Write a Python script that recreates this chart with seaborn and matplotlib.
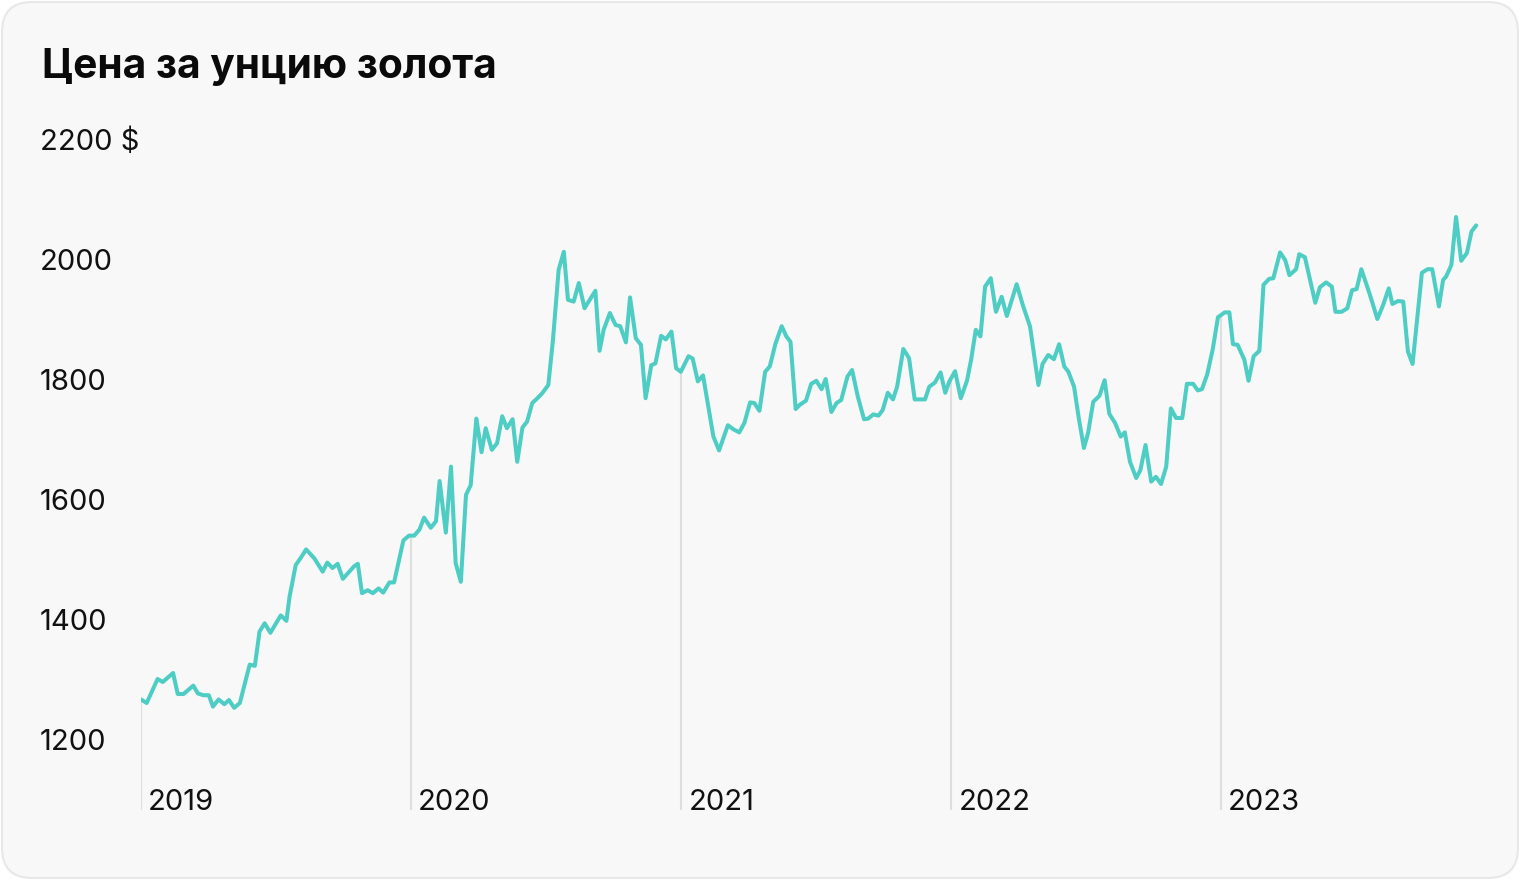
import numpy as np
import pandas as pd
import matplotlib.pyplot as plt
import matplotlib.patches as mpatches
import matplotlib.transforms as mtransforms
import matplotlib.dates as mdates
import seaborn as sns

# Weeks since 2019-01-01 and gold price, $ per ounce
weeks = [0, 1.1, 3.2, 4.2, 6.2, 7.1, 8.2, 10.1, 11.0, 12.0, 13.1, 13.9, 15.0, 16.1, 17.0, 18.0,
         19.1, 21.0, 22.0, 22.9, 23.9, 25.0, 27.0, 28.1, 28.7, 29.9, 30.8, 31.9, 33.5, 35.1,
         36.0, 37.0, 38.0, 39.0, 41.2, 41.9, 42.7, 43.8, 44.8, 45.9, 46.8, 48.0, 48.9, 50.7,
         51.8, 52.8, 53.8, 54.7, 56.0, 57.0, 57.7, 58.9, 59.9, 60.8, 61.8, 62.8, 63.7, 64.8,
         65.8, 66.6, 67.8, 68.8, 69.8, 70.7, 71.8, 72.7, 73.7, 74.6, 75.6, 76.6, 77.5, 78.7,
         79.6, 80.7, 81.7, 82.5, 83.6, 84.6, 85.7, 86.5, 87.8, 88.6, 89.4, 90.6, 91.7, 92.6,
         93.7, 94.5, 95.6, 96.6, 97.5, 98.6, 99.4, 100.5, 101.4, 102.5, 103.4, 104.3, 105.8,
         106.6, 107.6, 108.6, 110.6, 111.7, 113.4, 114.5, 115.6, 116.6, 117.7, 118.5, 119.5,
         120.6, 121.5, 122.6, 123.8, 124.7, 125.5, 126.5, 127.3, 128.5, 129.5, 130.5, 131.5,
         132.3, 133.4, 134.4, 135.3, 136.5, 137.4, 138.5, 139.7, 140.5, 141.5, 142.5, 143.3,
         144.3, 145.3, 146.1, 147.3, 148.4, 149.5, 150.6, 151.5, 152.3, 153.4, 154.5, 155.4,
         156.2, 157.3, 158.4, 159.6, 160.4, 161.3, 162.2, 163.1, 164.2, 165.2, 166.3, 167.3,
         169.2, 170.4, 171.8, 173.4, 174.2, 175.3, 176.4, 177.4, 178.4, 179.2, 180.3, 181.2,
         182.2, 183.0, 184.0, 185.2, 186.2, 187.1, 188.2, 189.3, 190.1, 191.1, 192.3, 193.1,
         194.1, 195.2, 196.1, 197.1, 198.1, 199.0, 200.0, 201.2, 202.1, 203.3, 204.2, 205.0,
         206.0, 207.1, 208.1, 209.4, 210.3, 211.0, 211.9, 213.2, 214.0, 215.0, 216.1, 216.9,
         218.0, 218.8, 220.1, 221.1, 221.9, 223.2, 223.8, 224.9, 226.9, 227.8, 229.0, 230.1,
         230.8, 232.0, 233.1, 234.0, 234.9, 235.8, 237.4, 238.9, 240.0, 241.1, 241.8, 242.9,
         243.9, 244.8, 245.7, 247.5, 248.6, 249.5, 250.8, 251.6, 252.2, 253.2, 254.1, 255.1,
         256.2, 257.1, 258.0]

prices = [1266, 1260, 1300, 1295, 1310, 1275, 1275, 1289, 1276, 1273, 1273, 1254, 1266, 1258, 1265, 1252,
          1260, 1324, 1322, 1379, 1393, 1377, 1406, 1397, 1437, 1490, 1501, 1516, 1501, 1479,
          1494, 1485, 1492, 1467, 1488, 1492, 1443, 1448, 1443, 1451, 1444, 1461, 1461, 1531,
          1539, 1539, 1549, 1569, 1552, 1563, 1630, 1544, 1654, 1493, 1462, 1607, 1623, 1734,
          1678, 1718, 1682, 1693, 1738, 1718, 1733, 1662, 1719, 1729, 1760, 1768, 1776, 1790,
          1865, 1982, 2012, 1932, 1929, 1960, 1918, 1929, 1947, 1847, 1882, 1910, 1890, 1888,
          1861, 1936, 1868, 1857, 1768, 1823, 1826, 1872, 1866, 1879, 1818, 1812, 1838,
          1834, 1796, 1806, 1704, 1681, 1723, 1716, 1711, 1727, 1761, 1760, 1747,
          1812, 1821, 1859, 1888, 1871, 1862, 1750, 1757, 1764, 1792, 1797, 1783,
          1800, 1745, 1760, 1765, 1804, 1815, 1771, 1733, 1734, 1741, 1739, 1748,
          1777, 1766, 1787, 1850, 1835, 1766, 1766, 1766, 1787, 1794, 1811, 1777,
          1796, 1813, 1768, 1797, 1832, 1882, 1871, 1954, 1968, 1912, 1937, 1905,
          1958, 1923, 1887, 1790, 1825, 1840, 1833, 1858, 1821, 1812, 1787, 1735,
          1685, 1710, 1762, 1772, 1798, 1742, 1727, 1704, 1711, 1662, 1635, 1648,
          1690, 1629, 1637, 1625, 1654, 1751, 1735, 1735, 1792, 1792, 1781, 1783,
          1807, 1850, 1903, 1911, 1911, 1858, 1857, 1832, 1797, 1838, 1847, 1957,
          1967, 1968, 2011, 1998, 1973, 1983, 2008, 2003, 1927, 1953, 1961, 1954,
          1912, 1912, 1918, 1948, 1950, 1983, 1942, 1900, 1923, 1951, 1925, 1930,
          1929, 1846, 1825, 1977, 1983, 1983, 1921, 1965, 1971, 1990, 2070, 1997,
          2010, 2046, 2056]

years = [2019, 2020, 2021, 2022, 2023]
ytick_values = [1200, 1400, 1600, 1800, 2000, 2200]
ytick_labels = ['1200', '1400', '1600', '1800', '2000', '2200 $']
title = 'Цена за унцию золота'

start = pd.Timestamp('2019-01-01')
df = pd.DataFrame({
    'date': start + pd.to_timedelta(np.array(weeks) * 7, unit='D'),
    'price': prices,
})

sns.set_style('white')
plt.rcParams['font.family'] = ['Inter', 'DejaVu Sans']

W, H = 1520, 880
fig = plt.figure(figsize=(W / 100, H / 100), dpi=100)
fig.patch.set_facecolor('white')

# rounded card behind everything
card = mpatches.FancyBboxPatch((2, 2), W - 4, H - 4,
                               boxstyle='round,pad=0,rounding_size=30',
                               facecolor='#f8f8f8', edgecolor='#e8e8e8', linewidth=1.5,
                               transform=mtransforms.IdentityTransform(), zorder=0)
fig.add_artist(card)

ax = fig.add_axes([141 / W, 70 / H, 1350 / W, 671 / H])
ax.set_facecolor('none')
for s in ax.spines.values():
    s.set_visible(False)

ymin, ymax = 1081.7, 2200
ax.set_ylim(ymin, ymax)
ax.set_xlim(pd.Timestamp('2019-01-01'), pd.Timestamp('2024-01-01'))

# year markers: thin vertical lines from the bottom up to the price line
xnum = mdates.date2num(df['date'])
for yr in years:
    d = pd.Timestamp(f'{yr}-01-01')
    top = np.interp(mdates.date2num(d), xnum, df['price'])
    ax.vlines(d, ymin, top, color='#dedede', linewidth=1.5, zorder=1)
    ax.annotate(str(yr), xy=(d, ymin), xytext=(7, 0), textcoords='offset pixels',
                ha='left', va='baseline', fontsize=21, color='#111111')

sns.lineplot(data=df, x='date', y='price', ax=ax, color='#4ecdc4', linewidth=2.9, zorder=3)

ax.set_xticks([])
ax.set_yticks(ytick_values)
ax.set_yticklabels(ytick_labels)
# pad in points: 101 px from the axes edge to the label start
ax.tick_params(axis='y', length=0, pad=101 * 72 / 100, labelsize=21, labelcolor='#111111')
for lbl in ax.get_yticklabels():
    lbl.set_horizontalalignment('left')
ax.set_xlabel('')
ax.set_ylabel('')

fig.text(42 / W, 1 - 78 / H, title, fontsize=29.3, fontweight='bold',
         color='#0a0a0a', ha='left', va='baseline')

fig.savefig('out.png', dpi=100, facecolor=fig.get_facecolor())
